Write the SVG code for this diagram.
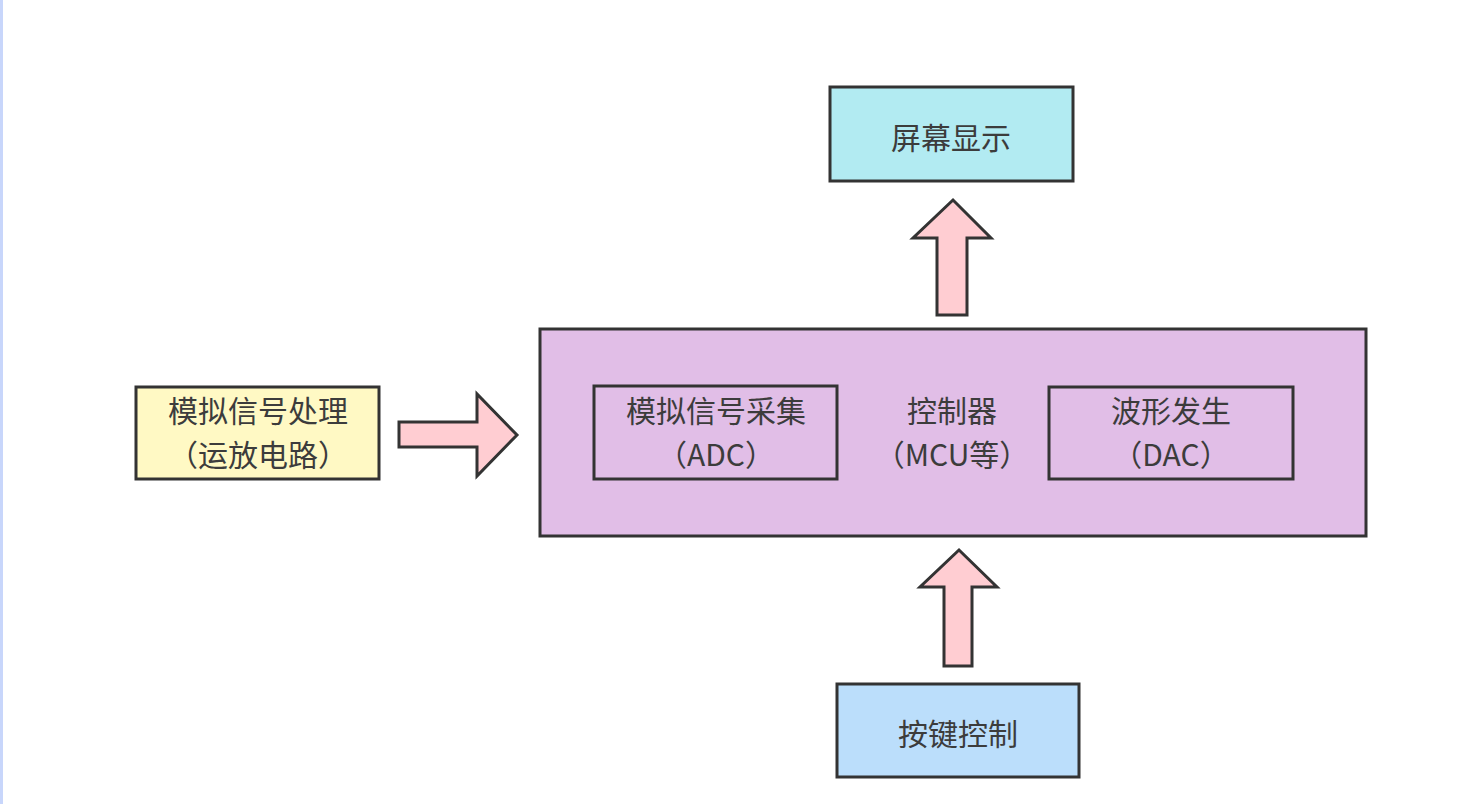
<svg xmlns="http://www.w3.org/2000/svg" width="1461" height="804" viewBox="0 0 1461 804">
<style>
.box{stroke:#333;stroke-width:3}
.arr{fill:#ffcdd2;stroke:#333;stroke-width:3;stroke-linejoin:miter}
text{font-family:"Noto Sans CJK SC","Microsoft YaHei",sans-serif;font-size:30px;fill:#3c3c3c;text-anchor:middle;dominant-baseline:central}
</style>
<rect x="0" y="0" width="1461" height="804" fill="#ffffff"/>
<rect x="0" y="0" width="3" height="804" fill="#c8d6fb"/>
<g id="screen">
<rect class="box" x="830" y="87" width="243" height="94" fill="#b2ebf2"/>
<text x="951" y="136">屏幕显示</text>
</g>
<g id="analog">
<rect class="box" x="136" y="387" width="243" height="92" fill="#fff9c4"/>
<text x="258" y="409">模拟信号处理</text>
<text x="258" y="453">（运放电路）</text>
</g>
<g id="controller">
<rect class="box" x="540" y="329" width="826" height="207" fill="#e1bee7"/>
<text x="952" y="409">控制器</text>
<text x="952" y="453">（MCU等）</text>
</g>
<g id="adc">
<rect class="box" x="594" y="386" width="243" height="93" fill="none"/>
<text x="716" y="409">模拟信号采集</text>
<text x="716" y="453">（ADC）</text>
</g>
<g id="dac">
<rect class="box" x="1049" y="387" width="244" height="92" fill="none"/>
<text x="1171" y="409">波形发生</text>
<text x="1171" y="453">（DAC）</text>
</g>
<g id="keys">
<rect class="box" x="837" y="684" width="242" height="93" fill="#bbdefb"/>
<text x="958" y="732">按键控制</text>
</g>
<g id="connectors">
<polygon class="arr" points="399,422 477,422 477,394 517,435 477,476 477,447 399,447"/>
<polygon class="arr" points="937,315 937,238 913,238 953,200 991,238 967,238 967,315"/>
<polygon class="arr" points="944,666 944,587 920,587 959,550 997,587 972,587 972,666"/>
</g>
</svg>
